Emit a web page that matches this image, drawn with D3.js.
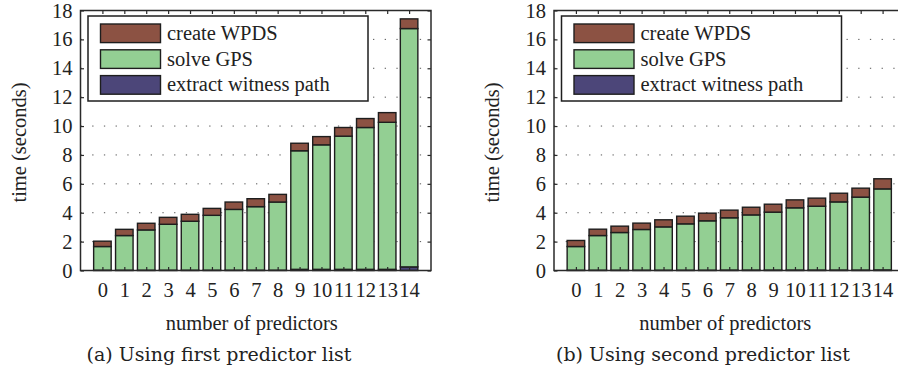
<!DOCTYPE html>
<html>
<head>
<meta charset="utf-8">
<script src="https://cdn.jsdelivr.net/npm/d3@7"></script>
<style>
  body { margin: 0; background: #fff; }
  svg { display: block; }
  text { font-family: "Liberation Serif", "Times New Roman", serif; fill: #222; }
  .caption { font-family: "DejaVu Serif", serif; }
</style>
</head>
<body>
<div id="chart"></div>
<script>
// predictors on the x axis
const predictors = d3.range(0, 15);
const yTicks = [0, 2, 4, 6, 8, 10, 12, 14, 16, 18];
const seriesNames = ["extract witness path", "solve GPS", "create WPDS"];

// (a) first predictor list, seconds
const extractA = [0.02, 0.02, 0.02, 0.02, 0.02, 0.02, 0.02, 0.02, 0.02, 0.08, 0.08, 0.08, 0.08, 0.08, 0.25];
const solveA = [1.64, 2.40, 2.79, 3.18, 3.39, 3.80, 4.21, 4.40, 4.72, 8.21, 8.62, 9.22, 9.82, 10.18, 16.50];
const createA = [0.37, 0.43, 0.46, 0.48, 0.48, 0.48, 0.51, 0.55, 0.53, 0.52, 0.57, 0.60, 0.62, 0.67, 0.67];

// (b) second predictor list, seconds
const extractB = [0.02, 0.02, 0.02, 0.02, 0.02, 0.02, 0.02, 0.03, 0.03, 0.03, 0.03, 0.03, 0.03, 0.03, 0.04];
const solveB = [1.64, 2.40, 2.61, 2.82, 3.00, 3.21, 3.42, 3.62, 3.82, 4.01, 4.31, 4.42, 4.72, 5.05, 5.61];
const createB = [0.42, 0.44, 0.44, 0.44, 0.49, 0.53, 0.53, 0.53, 0.53, 0.55, 0.55, 0.56, 0.60, 0.62, 0.70];

const colors = {
    "extract witness path": "#4c4679",
    "solve GPS": "#93cf93",
    "create WPDS": "#8c5243"
};

const W = 898, H = 379;
const FS = "20.5px";
const svg = d3.select("#chart").append("svg")
    .attr("width", W)
    .attr("height", H);

function drawPanel(opts) {
    const {left, right, top, bottom, extract, solve, create, caption, captionX} = opts;

    const x = d3.scaleLinear().domain([-1, 15]).range([left, right]);
    const y = d3.scaleLinear().domain([0, 18]).range([bottom, top]);
    const barW = x(0.8) - x(0);

    const rows = predictors.map((p, i) => ({
        p: p,
        "extract witness path": extract[i],
        "solve GPS": solve[i],
        "create WPDS": create[i]
    }));
    const stacked = d3.stack().keys(seriesNames)(rows);

    const g = svg.append("g");

    // dotted grid
    g.append("g")
        .selectAll("line")
        .data(yTicks.slice(1, -1))
        .enter().append("line")
        .attr("x1", left).attr("x2", right)
        .attr("y1", d => y(d)).attr("y2", d => y(d))
        .attr("stroke", "#555")
        .attr("stroke-width", 1)
        .attr("stroke-dasharray", "1.3,10.4");

    // bars
    g.selectAll(".series")
        .data(stacked)
        .enter().append("g")
        .attr("class", "series")
        .attr("fill", d => colors[d.key])
        .selectAll("rect")
        .data(d => d)
        .enter().append("rect")
        .attr("x", d => x(d.data.p) - barW / 2)
        .attr("width", barW)
        .attr("y", d => y(d[1]))
        .attr("height", d => y(d[0]) - y(d[1]))
        .attr("stroke", "#1e1e1e")
        .attr("stroke-width", 1.4);

    // axes box with ticks on all sides
    const tickLen = 3.5;
    const axisColor = "#2a2a2a";
    const axG = g.append("g")
        .attr("stroke", axisColor)
        .attr("stroke-width", 1.5)
        .attr("fill", "none");
    axG.append("rect")
        .attr("x", left).attr("y", top)
        .attr("width", right - left).attr("height", bottom - top);

    const yAxL = d3.axisLeft(y).tickValues(yTicks).tickSize(-tickLen).tickPadding(8);
    const yAxR = d3.axisRight(y).tickValues(yTicks).tickSize(-tickLen).tickFormat("");
    const xAxB = d3.axisBottom(x).tickValues(predictors).tickSize(-tickLen).tickPadding(12);
    const xAxT = d3.axisTop(x).tickValues(predictors).tickSize(-tickLen).tickFormat("");

    [
        [yAxL, `translate(${left},0)`],
        [yAxR, `translate(${right},0)`],
        [xAxB, `translate(0,${bottom})`],
        [xAxT, `translate(0,${top})`]
    ].forEach(([ax, tr]) => {
        const a = g.append("g").attr("transform", tr).call(ax);
        a.select(".domain").remove();
        a.selectAll(".tick line").attr("stroke", axisColor).attr("stroke-width", 1.2);
        a.selectAll("text")
            .attr("font-family", "Liberation Serif, serif")
            .attr("font-size", FS)
            .attr("fill", "#222");
    });

    // axis titles
    g.append("text")
        .attr("transform", `translate(${left - 55},${(top + bottom) / 2 + 2}) rotate(-90)`)
        .attr("text-anchor", "middle")
        .attr("font-size", FS)
        .text("time (seconds)");

    g.append("text")
        .attr("x", (left + right) / 2 - 4)
        .attr("y", 330)
        .attr("text-anchor", "middle")
        .attr("font-size", FS)
        .text("number of predictors");

    g.append("text")
        .attr("class", "caption")
        .attr("x", captionX)
        .attr("y", 361)
        .attr("text-anchor", "middle")
        .attr("font-size", "19px")
        .text(caption);

    // legend
    const lg = g.append("g").attr("transform", `translate(${left + 7.5},16)`);
    lg.append("rect")
        .attr("width", 280).attr("height", 85)
        .attr("fill", "#fff")
        .attr("stroke", "#1e1e1e")
        .attr("stroke-width", 1.5);
    const items = seriesNames.slice().reverse();
    const rowH = 25.8;
    items.forEach((name, i) => {
        const cy = 17.3 + i * rowH;
        lg.append("rect")
            .attr("x", 12.5).attr("y", cy - 9.3)
            .attr("width", 60).attr("height", 18.6)
            .attr("fill", colors[name])
            .attr("stroke", "#1e1e1e")
            .attr("stroke-width", 1.4);
        lg.append("text")
            .attr("x", 79)
            .attr("y", cy + 6.5)
            .attr("font-size", FS)
            .text(name);
    });
}

drawPanel({
    left: 80.5, right: 431, top: 10.5, bottom: 270.5,
    extract: extractA, solve: solveA, create: createA,
    caption: "(a) Using first predictor list", captionX: 219
});

drawPanel({
    left: 554, right: 904.5, top: 10.5, bottom: 270.5,
    extract: extractB, solve: solveB, create: createB,
    caption: "(b) Using second predictor list", captionX: 703
});
</script>
</body>
</html>
